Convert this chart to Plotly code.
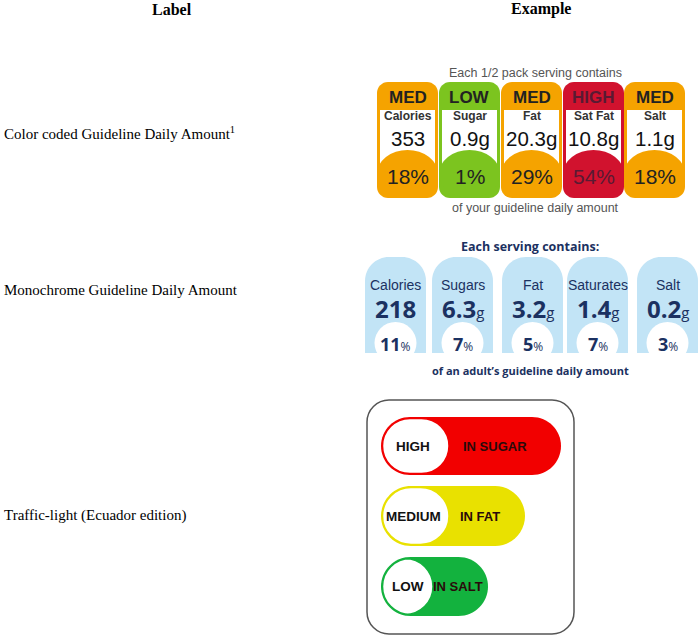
import plotly.graph_objects as go

# ---------------- data ----------------
headers = ["Label", "Example"]
row_labels = ["Color coded Guideline Daily Amount<sup>1</sup>",
              "Monochrome Guideline Daily Amount",
              "Traffic-light (Ecuador edition)"]

gda_title = "Each 1/2 pack serving contains"
gda_footer = "of your guideline daily amount"
gda_levels = ["MED", "LOW", "MED", "HIGH", "MED"]
gda_nutrients = ["Calories", "Sugar", "Fat", "Sat Fat", "Salt"]
gda_amounts = ["353", "0.9g", "20.3g", "10.8g", "1.1g"]
gda_pct = [18, 1, 29, 54, 18]

mono_title = "Each serving contains:"
mono_footer = "of an adult\u2019s guideline daily amount"
mono_nutrients = ["Calories", "Sugars", "Fat", "Saturates", "Salt"]
mono_values = ["218", "6.3", "3.2", "1.4", "0.2"]
mono_units = ["", "g", "g", "g", "g"]
mono_pct = [11, 7, 5, 7, 3]

traffic_levels = ["HIGH", "MEDIUM", "LOW"]
traffic_nutrients = ["IN SUGAR", "IN FAT", "IN SALT"]

# ---------------- styles ----------------
level_colors = {"MED": "#F5A300", "LOW": "#7CC41F", "HIGH": "#D1122E"}
level_text = {"MED": "#222222", "LOW": "#222222", "HIGH": "#5A1A33"}
traffic_colors = {"HIGH": "#F20000", "MEDIUM": "#E9E100", "LOW": "#13B23E"}
mono_fill = "#C2E4F6"
navy = "#1B3161"
K = 0.5523


def rrect(x0, y0, x1, y1, tl, tr, br, bl):
    p = f"M {x0+tl},{y0} L {x1-tr},{y0} "
    p += f"C {x1-tr+K*tr},{y0} {x1},{y0+tr-K*tr} {x1},{y0+tr} "
    p += f"L {x1},{y1-br} "
    p += f"C {x1},{y1-br+K*br} {x1-br+K*br},{y1} {x1-br},{y1} "
    p += f"L {x0+bl},{y1} "
    p += f"C {x0+bl-K*bl},{y1} {x0},{y1-bl+K*bl} {x0},{y1-bl} "
    p += f"L {x0},{y0+tl} "
    p += f"C {x0},{y0+tl-K*tl} {x0+tl-K*tl},{y0} {x0+tl},{y0} Z"
    return p


shapes = []
ann = []


def text(x, y, s, size, color="#000", family="Liberation Sans, Arial, sans-serif",
         xanchor="center", bold=False):
    if bold:
        s = f"<b>{s}</b>"
    ann.append(dict(x=x, y=y, xref="x", yref="y", text=s, showarrow=False,
                    xanchor=xanchor, yanchor="middle",
                    font=dict(size=size, color=color, family=family)))


serif = "Liberation Serif, Times New Roman, serif"
sans = "Liberation Sans, Arial, sans-serif"
# headers
text(172, 9, headers[0], 16, family=serif, bold=True)
text(541, 9, headers[1], 16, family=serif, bold=True)
# row labels
for lab, y in zip(row_labels, [133, 290, 515]):
    text(2, y, lab, 15, family=serif, xanchor="left")

# ---------------- color coded GDA ----------------
text(535, 73, gda_title, 12.5, color="#555555")
text(535, 208, gda_footer, 12.5, color="#555555")
gx0 = [377, 439, 501, 563, 624]
gw = 61
gy0, gy1 = 82, 198
for i, lev in enumerate(gda_levels):
    x0 = gx0[i]
    x1 = x0 + gw
    c = level_colors[lev]
    shapes.append(dict(type="path", path=rrect(x0, gy0, x1, gy1, 11, 11, 11, 11),
                       fillcolor=c, line=dict(width=0), layer="above"))
    shapes.append(dict(type="rect", x0=x0 + 3, x1=x1 - 3, y0=110, y1=174,
                       fillcolor="white", line=dict(width=0), layer="above"))
    shapes.append(dict(type="circle", x0=x0, x1=x1, y0=150, y1=198,
                       fillcolor=c, line=dict(width=0), layer="above"))
    cx = (x0 + x1) / 2
    text(cx, 97, lev, 17, color=level_text[lev], bold=True)
    text(cx, 116, gda_nutrients[i], 12, color="#333333", bold=True)
    text(cx, 138, gda_amounts[i], 20.5, color="#111111")
    text(cx, 176, f"{gda_pct[i]}%", 21, color=level_text[lev])

# ---------------- monochrome GDA ----------------
text(530, 246, f"<b>{mono_title}</b>", 12.5, color=navy, family="Open Sans, sans-serif")
text(530, 370, f"<b>{mono_footer}</b>", 11, color=navy, family="Open Sans, sans-serif")
mx0 = [365, 432, 502, 567, 637]
mw = 61
my0, my1 = 257, 353
for i in range(5):
    x0 = mx0[i]
    x1 = x0 + mw
    cx = (x0 + x1) / 2
    shapes.append(dict(type="path", path=rrect(x0, my0, x1, my1, 24, 24, 0, 0),
                       fillcolor=mono_fill, line=dict(width=0), layer="above"))
    shapes.append(dict(type="circle", x0=cx - 21, x1=cx + 21, y0=322, y1=364,
                       fillcolor="white", line=dict(width=0), layer="above"))
    text(cx, 285, mono_nutrients[i], 14, color=navy, family=sans)
    val = f"<b>{mono_values[i]}</b>"
    if mono_units[i]:
        val += f"<span style='font-size:15px'>{mono_units[i]}</span>"
    text(cx, 308, val, 24, color=navy, family="Open Sans, sans-serif")
    text(cx, 344, f"<b>{mono_pct[i]}</b><span style='font-size:12px'>%</span>", 18,
         color=navy, family="Open Sans, sans-serif")

# ---------------- traffic light ----------------
shapes.append(dict(type="path", path=rrect(367, 400, 574, 634, 22, 22, 22, 22),
                   fillcolor="white", line=dict(color="#555555", width=1.5), layer="above"))
bar_y = [(417, 475), (486, 546), (557, 616)]
bar_x1 = [561, 525, 488]
pill_x1 = [449, 449, 433]
lev_x = [413, 413, 408]
nut_x = [495, 480, 458]
for i, lev in enumerate(traffic_levels):
    y0, y1 = bar_y[i]
    r = (y1 - y0) / 2
    c = traffic_colors[lev]
    shapes.append(dict(type="path", path=rrect(381, y0, bar_x1[i], y1, r, r, r, r),
                       fillcolor=c, line=dict(width=0), layer="above"))
    rr = r - 1.5
    shapes.append(dict(type="path", path=rrect(382.5, y0 + 1.5, pill_x1[i], y1 - 1.5, rr, rr, rr, rr),
                       fillcolor="white", line=dict(color=c, width=1.5), layer="above"))
    ym = (y0 + y1) / 2
    text(lev_x[i], ym, lev, 13.5, color="#111111", bold=True)
    text(nut_x[i], ym, traffic_nutrients[i], 13, color="#2a0a0a", bold=True)

fig = go.Figure()
fig.update_layout(width=700, height=637,
                  margin=dict(l=0, r=0, t=0, b=0),
                  paper_bgcolor="white", plot_bgcolor="white",
                  xaxis=dict(range=[0, 700], visible=False, fixedrange=True),
                  yaxis=dict(range=[637, 0], visible=False, fixedrange=True),
                  shapes=shapes, annotations=ann, showlegend=False)
fig.write_html("out.html", config={"displayModeBar": False},
               post_script="document.body.style.margin='0px';document.body.style.overflow='hidden';")
